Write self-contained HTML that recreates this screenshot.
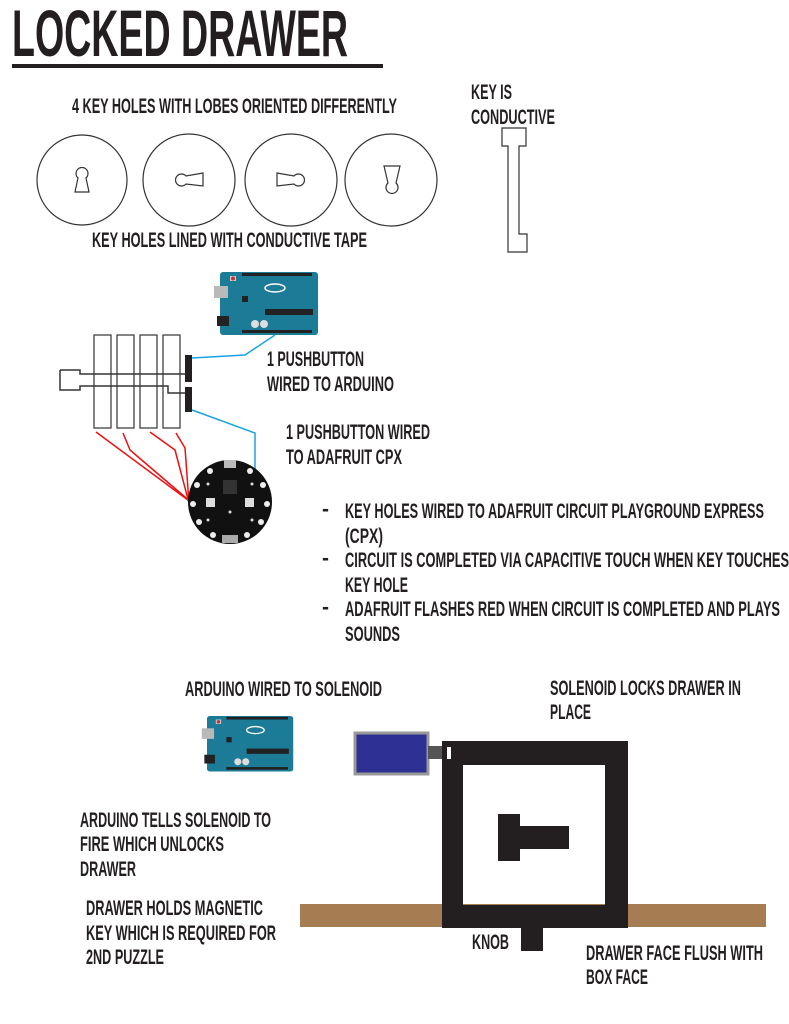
<!DOCTYPE html>
<html><head><meta charset="utf-8"><style>
html,body{margin:0;padding:0;background:#fff;}
svg{display:block}
text{font-family:"Liberation Sans Narrow","Liberation Sans",sans-serif;font-weight:bold;fill:#231f20;font-size:21px}
</style></head><body>
<svg width="789" height="1024" viewBox="0 0 789 1024" xmlns="http://www.w3.org/2000/svg">
<defs>
<g id="ard">
<rect x="0" y="0" width="98" height="63" rx="3" fill="#1c7b96"/>
<rect x="-6" y="14" width="14" height="12" fill="#b9b9b9"/>
<rect x="-3" y="44" width="12" height="10" fill="#222"/>
<rect x="10" y="4" width="6" height="5" fill="#ccc"/><circle cx="13" cy="6.5" r="2" fill="#c33"/>
<rect x="22" y="1" width="70" height="3" fill="#222"/>
<rect x="22" y="58" width="70" height="3" fill="#222"/>
<rect x="45" y="37" width="48" height="6" fill="#222"/>
<circle cx="35" cy="52" r="4" fill="#ddd"/><circle cx="44" cy="52" r="4" fill="#ddd"/>
<ellipse cx="55" cy="16" rx="10" ry="4" fill="none" stroke="#fff" stroke-width="1.5"/>
<rect x="22" y="24" width="6" height="6" fill="#222"/>
</g>
<g id="cpx">
<circle cx="0" cy="0" r="42" fill="#111"/>
<g fill="#eee">
<circle cx="0" cy="-37" r="3"/><circle cx="20" cy="-31" r="3"/><circle cx="33" cy="-17" r="3"/><circle cx="37" cy="2" r="3"/><circle cx="31" cy="20" r="3"/><circle cx="17" cy="33" r="3"/><circle cx="-17" cy="33" r="3"/><circle cx="-31" cy="20" r="3"/><circle cx="-37" cy="2" r="3"/><circle cx="-33" cy="-17" r="3"/><circle cx="-20" cy="-31" r="3"/>
</g>
<rect x="-6" y="-42" width="12" height="8" fill="#bbb"/>
<rect x="-7" y="-22" width="14" height="14" fill="#333"/>
<rect x="-24" y="-4" width="9" height="9" fill="#ddd"/><rect x="15" y="-4" width="9" height="9" fill="#ddd"/>
<rect x="-8" y="33" width="16" height="8" fill="#aaa"/>
<g fill="#ddd"><circle cx="-22" cy="-18" r="1.5"/><circle cx="22" cy="-18" r="1.5"/><circle cx="-22" cy="18" r="1.5"/><circle cx="22" cy="18" r="1.5"/><circle cx="0" cy="10" r="1.5"/></g>
</g>
</defs>

<text x="12" y="56" style="font-size:66px" textLength="336" lengthAdjust="spacingAndGlyphs">LOCKED DRAWER</text>
<rect x="12" y="64" width="371" height="4" fill="#231f20"/>

<text x="72" y="113" textLength="325" lengthAdjust="spacingAndGlyphs">4 KEY HOLES WITH LOBES ORIENTED DIFFERENTLY</text>
<g fill="none" stroke="#333" stroke-width="1.2">
<circle cx="82" cy="180" r="45"/><circle cx="189" cy="180" r="46"/><circle cx="291" cy="180" r="46"/><circle cx="391" cy="180" r="46"/>
<path d="M78 178 A6 6 0 1 1 86 178 L89 192 L75 192 Z"/>
<path d="M186 176 A6 6 0 1 0 186 184 L203 186 L203 173 Z"/>
<path d="M294 176 A6 6 0 1 1 294 184 L277 186 L277 173 Z"/>
<path d="M388 183 A6 6 0 1 0 396 183 L400 166 L384 166 Z"/>
<path d="M502 128 L526 128 L526 146 L519 146 L519 234 L527 234 L527 252 L508 252 L508 146 L502 146 Z"/>
</g>
<text x="92" y="247" textLength="275" lengthAdjust="spacingAndGlyphs">KEY HOLES LINED WITH CONDUCTIVE TAPE</text>
<text x="471" y="99" textLength="41" lengthAdjust="spacingAndGlyphs">KEY IS</text>
<text x="471" y="124" textLength="84" lengthAdjust="spacingAndGlyphs">CONDUCTIVE</text>

<use href="#ard" x="220" y="272"/>
<g fill="#fff" stroke="#333" stroke-width="1.2">
<rect x="94" y="335" width="17" height="93"/><rect x="117" y="335" width="17" height="93"/><rect x="140" y="335" width="17" height="93"/><rect x="163" y="335" width="17" height="93"/>
</g>
<path d="M60 370 L80 370 L80 374 L186 374 M60 370 L60 390 L80 390 L80 386 L168 386 L168 393 L186 393" fill="none" stroke="#333" stroke-width="1.5"/>
<rect x="185" y="355" width="7" height="27" fill="#231f20"/>
<rect x="185" y="387" width="7" height="25" fill="#231f20"/>
<g fill="none" stroke="#1aa3e0" stroke-width="1.5">
<path d="M192 358 L245 355 L275 335"/>
<path d="M192 410 L255 433 L255 480"/>
</g>
<g fill="none" stroke="#e11" stroke-width="1.5">
<path d="M96 432 L192 503"/>
<path d="M123 433 L130 450 L192 503"/>
<path d="M150 432 L175 450 L189 503"/>
<path d="M176 433 L185 448 L189 503"/>
</g>
<use href="#cpx" x="230" y="502"/>
<text x="267" y="366" textLength="97" lengthAdjust="spacingAndGlyphs">1 PUSHBUTTON</text>
<text x="267" y="391" textLength="127" lengthAdjust="spacingAndGlyphs">WIRED TO ARDUINO</text>
<text x="286" y="439" textLength="144" lengthAdjust="spacingAndGlyphs">1 PUSHBUTTON WIRED</text>
<text x="286" y="464" textLength="116" lengthAdjust="spacingAndGlyphs">TO ADAFRUIT CPX</text>

<text x="322" y="516">-</text>
<text x="345" y="518" textLength="419" lengthAdjust="spacingAndGlyphs">KEY HOLES WIRED TO ADAFRUIT CIRCUIT PLAYGROUND EXPRESS</text>
<text x="345" y="543" textLength="38" lengthAdjust="spacingAndGlyphs">(CPX)</text>
<text x="322" y="565">-</text>
<text x="345" y="567" textLength="444" lengthAdjust="spacingAndGlyphs">CIRCUIT IS COMPLETED VIA CAPACITIVE TOUCH WHEN KEY TOUCHES</text>
<text x="345" y="592" textLength="63" lengthAdjust="spacingAndGlyphs">KEY HOLE</text>
<text x="322" y="614">-</text>
<text x="345" y="616" textLength="435" lengthAdjust="spacingAndGlyphs">ADAFRUIT  FLASHES RED WHEN CIRCUIT IS COMPLETED AND PLAYS</text>
<text x="345" y="641" textLength="55" lengthAdjust="spacingAndGlyphs">SOUNDS</text>

<text x="185" y="696" textLength="197" lengthAdjust="spacingAndGlyphs">ARDUINO WIRED TO SOLENOID</text>
<text x="550" y="695" textLength="191" lengthAdjust="spacingAndGlyphs">SOLENOID LOCKS DRAWER IN</text>
<text x="550" y="719" textLength="41" lengthAdjust="spacingAndGlyphs">PLACE</text>
<use href="#ard" x="207" y="716" transform="translate(207 716) scale(0.88) translate(-207 -716)"/>
<rect x="355" y="733" width="73" height="41" fill="#2e3192" stroke="#999" stroke-width="3"/>
<rect x="428" y="746" width="20" height="13" fill="#555"/>
<rect x="300" y="904" width="466" height="23" fill="#a67c52"/>
<path d="M442 741 H628 V928 H442 Z M463 765 V905 H605 V765 Z" fill="#231f20" fill-rule="evenodd"/>
<rect x="447" y="747" width="4" height="12" fill="#fff"/>
<rect x="498" y="814" width="22" height="47" fill="#231f20"/>
<rect x="520" y="826" width="49" height="23" fill="#231f20"/>
<rect x="521" y="928" width="22" height="23" fill="#231f20"/>
<text x="80" y="827" textLength="191" lengthAdjust="spacingAndGlyphs">ARDUINO TELLS SOLENOID TO</text>
<text x="80" y="851" textLength="144" lengthAdjust="spacingAndGlyphs">FIRE WHICH UNLOCKS</text>
<text x="80" y="876" textLength="56" lengthAdjust="spacingAndGlyphs">DRAWER</text>
<text x="86" y="915" textLength="177" lengthAdjust="spacingAndGlyphs">DRAWER HOLDS MAGNETIC</text>
<text x="86" y="940" textLength="190" lengthAdjust="spacingAndGlyphs">KEY WHICH IS REQUIRED FOR</text>
<text x="86" y="964" textLength="78" lengthAdjust="spacingAndGlyphs">2ND PUZZLE</text>
<text x="472" y="949" textLength="37" lengthAdjust="spacingAndGlyphs">KNOB</text>
<text x="586" y="960" textLength="177" lengthAdjust="spacingAndGlyphs">DRAWER FACE FLUSH WITH</text>
<text x="586" y="984" textLength="62" lengthAdjust="spacingAndGlyphs">BOX FACE</text>
</svg>
</body></html>
